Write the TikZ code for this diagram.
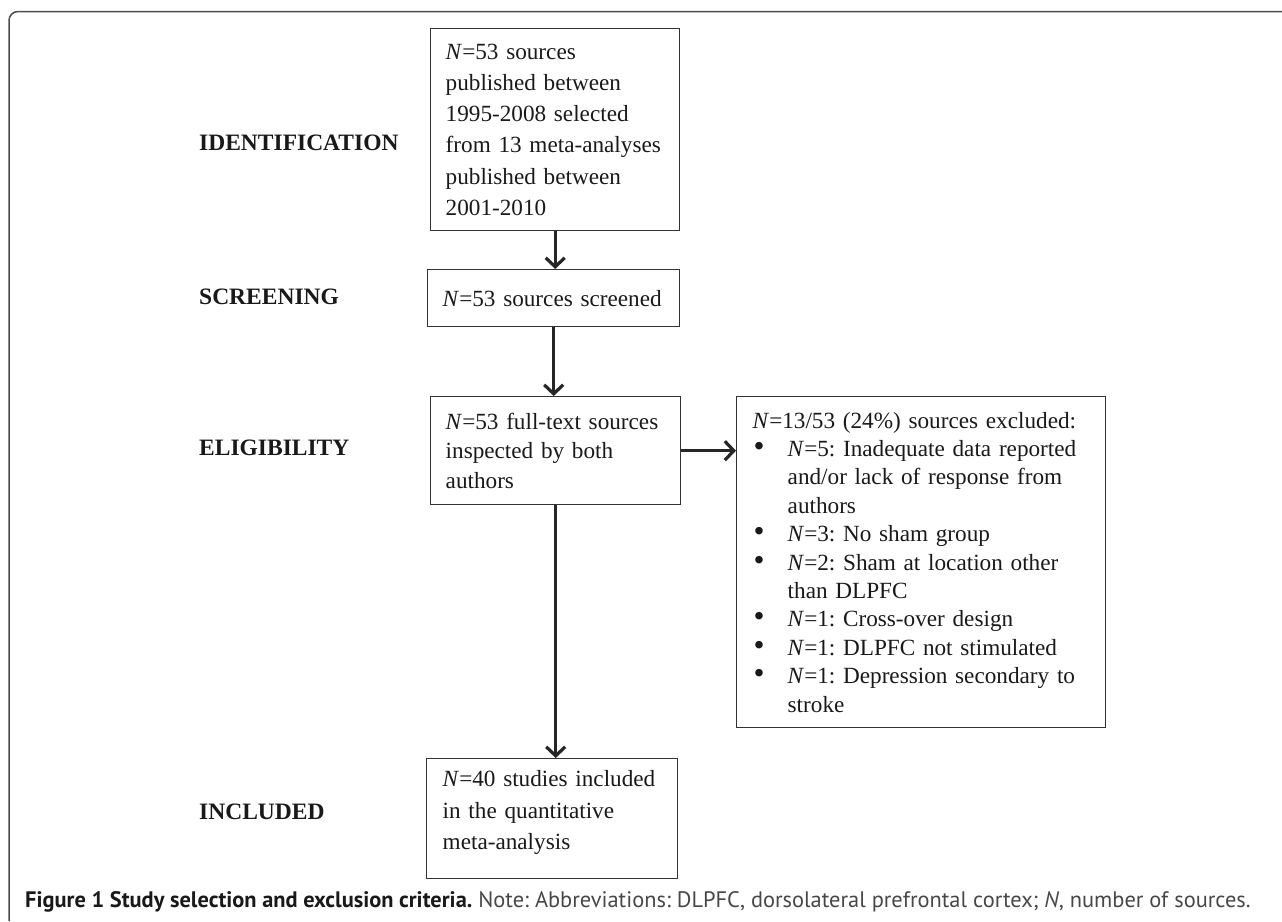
\documentclass[tikz,border=0pt]{standalone}
\usepackage{fontspec}
\setmainfont{Liberation Serif}
\newfontfamily\capfont{PT Sans}
\usetikzlibrary{arrows.meta}
\newcommand{\oneline}[1]{\mbox{#1}}
\newcommand{\bul}{\makebox[35pt][l]{\hspace{1pt}\scalebox{1.35}{\textbullet}}}
\begin{document}
\frenchspacing
\begin{tikzpicture}[x=1pt,y=-1pt,
  box/.style={draw=black!80, line width=1.4pt, anchor=north west, align=left,
    inner xsep=15pt, inner ysep=3pt, text=black!90},
  stage/.style={anchor=west, inner sep=0pt, text=black!90,
    font=\fontsize{23.5pt}{28pt}\selectfont\bfseries},
  flow/.style={line width=3.2pt, draw=black!85,
    -{Straight Barb[length=9pt,width=19pt]}}
]
\useasboundingbox (0,0) rectangle (1282,921);
% frame
\draw[draw=black!70, line width=1.5pt, rounded corners=9pt]
  (9,921) -- (9,11.5) -- (1283,11.5);

% boxes
\node[box, minimum width=249pt, minimum height=202pt, text width=219pt,
  font=\fontsize{23.2pt}{31.2pt}\selectfont] (id) at (430,28)
  {\oneline{\textit{N}=53 sources}\\ \oneline{published between}\\ \oneline{1995-2008 selected}\\
   \oneline{from 13 meta-analyses}\\ \oneline{published between}\\ \oneline{2001-2010}};
\node[box, minimum width=252pt, minimum height=57pt, text width=222pt,
  font=\fontsize{23.2pt}{30pt}\selectfont] (sc) at (427,269)
  {\oneline{\textit{N}=53 sources screened}};
\node[box, minimum width=250pt, minimum height=108pt, text width=220pt,
  font=\fontsize{23.2pt}{29.5pt}\selectfont] (el) at (430,396)
  {\oneline{\textit{N}=53 full-text sources}\\ \oneline{inspected by both}\\ \oneline{authors}};
\node[box, minimum width=369pt, minimum height=331pt, inner xsep=16pt, text width=337pt,
  font=\fontsize{23.2pt}{28.4pt}\selectfont] (ex) at (736,396)
  {\oneline{\textit{N}=13/53 (24\%) sources excluded:}\\
   \oneline{\bul\textit{N}=5: Inadequate data reported}\\
   \oneline{\hspace*{35pt}and/or lack of response from}\\
   \oneline{\hspace*{35pt}authors}\\
   \oneline{\bul\textit{N}=3: No sham group}\\
   \oneline{\bul\textit{N}=2: Sham at location other}\\
   \oneline{\hspace*{35pt}than DLPFC}\\
   \oneline{\bul\textit{N}=1: Cross-over design}\\
   \oneline{\bul\textit{N}=1: DLPFC not stimulated}\\
   \oneline{\bul\textit{N}=1: Depression secondary to}\\
   \oneline{\hspace*{35pt}stroke}};
\node[box, minimum width=251pt, minimum height=120pt, inner xsep=16pt, text width=219pt,
  font=\fontsize{23.2pt}{31.5pt}\selectfont] (inc) at (426,758)
  {\oneline{\textit{N}=40 studies included}\\ \oneline{in the quantitative}\\ \oneline{meta-analysis}\\[-14.5pt]\mbox{}};

% stage labels
\node[stage] (lid) at (199,143) {IDENTIFICATION};
\node[stage] (lsc) at (199,297) {SCREENING};
\node[stage] (lel) at (199,448) {ELIGIBILITY};
\node[stage] (lin) at (199,812) {INCLUDED};

% connectors
\draw[flow] (id.south) -- (id.south |- sc.north);
\draw[flow] (sc.south) -- (sc.south |- el.north);
\draw[flow] (el.south) -- (el.south |- inc.north);
\draw[flow] (el.east) -- (el.east -| ex.west);

% caption
\node[anchor=base west, inner sep=0pt, font=\capfont\fontsize{22.4pt}{26pt}\selectfont] (cap) at (25,907)
  {\textcolor{black!90}{\bfseries Figure 1 Study selection and exclusion criteria.} \textcolor{black!72}{Note: Abbreviations: DLPFC, dorsolateral prefrontal cortex; \textit{N}, number of sources.}};
\end{tikzpicture}
\end{document}
